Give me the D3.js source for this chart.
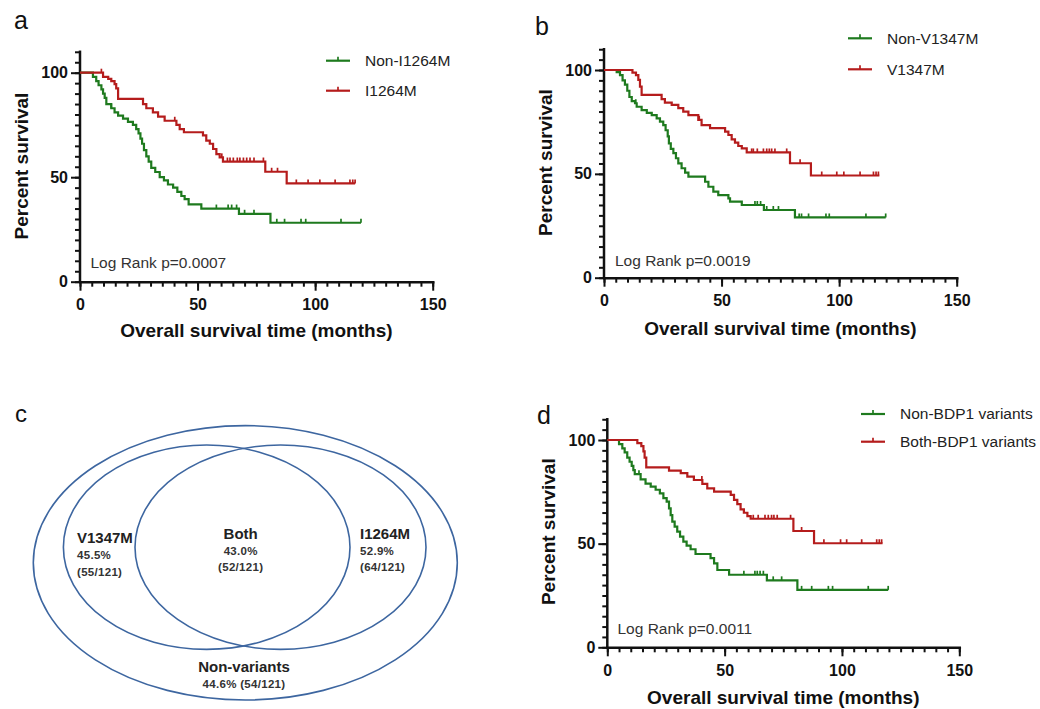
<!DOCTYPE html>
<html><head><meta charset="utf-8">
<script src="https://cdn.jsdelivr.net/npm/d3@7"></script>
<style>
html,body{margin:0;padding:0;background:#fff;}
svg{display:block;font-family:"Liberation Sans",Arial,Helvetica,sans-serif;}
</style></head><body>
<svg id="chart" width="1040" height="709"></svg>
<script>
// ---------------- DATA ----------------
const timeTicks = [0, 50, 100, 150];
const survivalTicks = [0, 50, 100];
const xTitle = "Overall survival time (months)";
const yTitle = "Percent survival";

// Panel a
const aLabels = ["Non-I1264M", "I1264M"];
const aPValue = "Log Rank p=0.0007";
const aGreenEvents = [[5.5,98],[6.9,96],[7.9,94],[9.1,92],[9.8,90],[10.5,88],[11.2,85],[13.3,83],[14.7,81],[16.2,79.5],[18.3,78],[20.4,76.5],[22.5,75],[23.9,73],[24.9,71],[25.7,68.5],[26.4,66],[27.2,63],[28.2,60],[29.2,57.5],[30.3,54.5],[32.0,52.5],[33.9,50],[35.7,48.5],[37.4,46.5],[39.6,45],[41.4,43],[43.1,41],[44.5,39.5],[46.2,37],[51.6,35],[67.6,32.5],[81,28.2]];
const aGreenCensors = [13.3,58,63,64.5,66.6,70,74,83.7,87,94,96,111,119.5];
const aGreenEnd = 119.5;
const aRedEvents = [[9.8,98],[12.0,97],[13.3,96],[14.7,94.5],[15.4,92.5],[16.2,87.5],[26.8,85],[28.2,83],[31.0,81],[33.2,79],[36.0,77],[41.0,75],[42.4,73],[44.2,71.5],[52.3,70],[53.7,67.5],[55.2,66],[56.6,63.5],[58.0,61],[59.4,59.5],[60.8,57.5],[78.8,52.6],[87.9,47]];
const aRedCensors = [9.1,40.3,60.3,62.7,63.8,65.2,66.9,68,69.5,70.9,72.3,74,78,81.5,84,92,97,102,108.5,114.8,116,117];
const aRedEnd = 117;

// Panel b
const bLabels = ["Non-V1347M", "V1347M"];
const bPValue = "Log Rank p=0.0019";
const bGreenEvents = [[5.4,99],[6.8,97.5],[7.9,95],[8.9,93],[9.9,90],[10.8,87],[11.8,85],[13.2,84],[13.9,82.3],[16.0,80.7],[18.2,79.4],[20.3,78.3],[22.4,76.7],[23.8,75.1],[25.2,73.5],[26.2,71],[27.1,68],[27.6,64.7],[28.4,62],[29.5,60],[30.6,57.5],[31.6,55],[33.0,52.7],[34.5,50.6],[35.9,48.7],[43.0,46.2],[44.4,43.8],[46.5,41.4],[48.6,39.8],[52.9,38.2],[53.6,36.6],[58.6,35],[68,32.6],[81.2,29]];
const bGreenCensors = [13.5,64.2,65.2,66.6,69.2,72,74.2,83,84,87,94.4,95.8,111.4,119.8];
const bGreenEnd = 119.8;
const bRedEvents = [[12.1,98.7],[13.6,97.5],[14.6,95.2],[15.3,92],[16.0,88],[24.5,86],[25.9,84.3],[28.8,83.2],[31.6,81.6],[33.7,80],[35.9,78.3],[40.1,76],[41.5,73.5],[45.1,72],[51.5,70.3],[52.9,68.7],[54.3,66.6],[55.7,65],[57.1,63.4],[58.6,62.3],[60.7,60.3],[79.1,55.1],[88,49.2]];
const bRedCensors = [40.5,62.8,63.5,65.2,67.8,69.2,70.3,71.3,72.7,77.7,83.4,92.6,99,102,108.9,114.6,115.7,116.7];
const bRedEnd = 117.1;

// Panel d
const dLabels = ["Non-BDP1 variants", "Both-BDP1 variants"];
const dPValue = "Log Rank p=0.0011";
const dGreenEvents = [[5.0,98],[6.4,96],[7.4,94],[8.5,91.5],[9.5,89.5],[10.4,87.5],[11.1,85.5],[11.7,83.5],[14.2,81],[16.3,79],[18.5,77.5],[20.6,76],[22.4,74.3],[23.9,72],[25.3,70.3],[26.3,67],[27.0,63.8],[27.7,60.6],[28.7,58.2],[29.8,55.8],[31.0,53.4],[32.4,51],[33.8,49],[35.5,47.3],[37.6,45],[44.0,43],[45.5,40.5],[46.9,37.3],[51.9,35],[68,32.3],[81,27.7]];
const dGreenCensors = [13.5,58.2,62.9,63.9,65.1,66.5,70.7,74.3,82.8,87.1,94.2,96,111.2,119.7];
const dGreenEnd = 119.7;
const dRedEvents = [[12.8,98.5],[14.5,97],[15.4,94.5],[15.9,91.5],[16.6,86.8],[26.3,85.2],[31.3,84],[34.1,82.3],[36.9,80.7],[40.5,78.8],[42.6,76.7],[45.5,75.1],[52.6,73.5],[54.0,71.1],[55.4,69.1],[56.8,66.5],[58.2,64.9],[59.7,63.3],[61.1,62],[79.3,56.1],[88.1,50.2]];
const dRedCensors = [40.3,62.2,64.3,67.2,68.6,70,71,72.4,78.1,82.8,92.3,99.4,102,108.4,114.8,115.9,116.9];
const dRedEnd = 117.3;

// Panel c (Venn)
const vennLabels = ["V1347M", "Both", "I1264M", "Non-variants"];
const vennPercents = ["45.5%", "43.0%", "52.9%", "44.6%"];
const vennCounts = [55, 52, 64, 54];
const vennTotal = 121;

// ---------------- DRAWING ----------------
const GREEN = "#1e7a1e", RED = "#b51c1c";
const svg = d3.select("#chart");

function survAt(events, t) {
  let s = 100;
  for (const [et, es] of events) { if (et <= t) s = es; }
  return s;
}

function kmPanel(cfg) {
  const g = svg.append("g");
  const x = d3.scaleLinear().domain([0, 150]).range([cfg.x0, cfg.x150]);
  const y = d3.scaleLinear().domain([0, 100]).range([cfg.y0, cfg.y100]);
  const yTop = 110;

  const yMinor = d3.axisLeft(y).tickValues(d3.range(0, yTop + 0.1, 5)).tickSize(5).tickSizeOuter(0).tickFormat("");
  const gy = g.append("g").attr("transform", `translate(${cfg.x0},0)`).call(yMinor);
  gy.select(".domain").attr("d", `M0,${y(0)}V${y(yTop)}`);
  const yMajor = d3.axisLeft(y).tickValues(survivalTicks).tickSize(9).tickSizeOuter(0).tickPadding(3);
  const gy2 = g.append("g").attr("transform", `translate(${cfg.x0},0)`).call(yMajor);
  gy2.select(".domain").remove();

  const xMinor = d3.axisBottom(x).tickValues(d3.range(0, 150.1, 5)).tickSize(5).tickSizeOuter(0).tickFormat("");
  g.append("g").attr("transform", `translate(0,${cfg.y0})`).call(xMinor);
  const xMajor = d3.axisBottom(x).tickValues(timeTicks).tickSize(9).tickSizeOuter(0).tickPadding(8);
  const gx2 = g.append("g").attr("transform", `translate(0,${cfg.y0})`).call(xMajor);
  gx2.select(".domain").remove();

  g.selectAll(".domain").attr("stroke", "#111").attr("stroke-width", 2.5).attr("stroke-linecap", "square");
  g.selectAll(".tick line").attr("stroke", "#111").attr("stroke-width", 2);
  g.selectAll(".tick text").attr("font-size", 16).attr("font-weight", "bold").attr("fill", "#111")
    .attr("font-family", '"Liberation Sans",Arial,sans-serif');

  const line = d3.line().x(d => x(d[0])).y(d => y(d[1])).curve(d3.curveStepAfter);
  cfg.series.forEach(sr => {
    const last = sr.events.length ? sr.events[sr.events.length - 1][1] : 100;
    const pts = [[0, 100], ...sr.events, [sr.end, last]];
    g.append("path").attr("d", line(pts)).attr("fill", "none").attr("stroke", sr.color).attr("stroke-width", 2.2);
    g.selectAll(null).data(sr.censors).enter().append("line")
      .attr("x1", d => x(d)).attr("x2", d => x(d))
      .attr("y1", d => y(survAt(sr.events, d))).attr("y2", d => y(survAt(sr.events, d)) - 4)
      .attr("stroke", sr.color).attr("stroke-width", 1.7);
  });

  cfg.series.forEach((sr, i) => {
    const ly = cfg.legY + i * cfg.legGap;
    g.append("line").attr("x1", cfg.legX).attr("x2", cfg.legX + 24).attr("y1", ly).attr("y2", ly)
      .attr("stroke", sr.color).attr("stroke-width", 2.2);
    g.append("line").attr("x1", cfg.legX + 12).attr("x2", cfg.legX + 12).attr("y1", ly).attr("y2", ly - 4)
      .attr("stroke", sr.color).attr("stroke-width", 1.7);
    g.append("text").attr("x", cfg.legX + 39).attr("y", ly).attr("dy", "0.35em")
      .attr("font-size", 15.5).attr("fill", "#222").text(sr.label);
  });

  g.append("text").attr("x", cfg.pX).attr("y", cfg.pY).attr("font-size", 15.5).attr("fill", "#333").text(cfg.pText);

  g.append("text").attr("x", (cfg.x0 + cfg.x150) / 2).attr("y", cfg.xTitleY)
    .attr("text-anchor", "middle").attr("font-size", 19).attr("font-weight", "bold").attr("fill", "#111").text(xTitle);
  g.append("text").attr("transform", `translate(${cfg.yTitleX},${cfg.yTitleY}) rotate(-90)`)
    .attr("text-anchor", "middle").attr("font-size", 19).attr("font-weight", "bold").attr("fill", "#111").text(yTitle);

  g.append("text").attr("x", cfg.letterX).attr("y", cfg.letterY).attr("font-size", 25).attr("fill", "#111").text(cfg.letter);
}

kmPanel({
  letter: "a", letterX: 14, letterY: 29,
  x0: 80, x150: 432.7, y0: 281.7, y100: 72.7,
  legX: 326, legY: 60.7, legGap: 30,
  pText: aPValue, pX: 90.5, pY: 267.5,
  xTitleY: 337, yTitleX: 28, yTitleY: 166,
  series: [
    {label: aLabels[0], color: GREEN, events: aGreenEvents, censors: aGreenCensors, end: aGreenEnd},
    {label: aLabels[1], color: RED, events: aRedEvents, censors: aRedCensors, end: aRedEnd}
  ]
});

kmPanel({
  letter: "b", letterX: 535, letterY: 35,
  x0: 604, x150: 956.7, y0: 277.7, y100: 70,
  legX: 848, legY: 38.3, legGap: 31,
  pText: bPValue, pX: 615, pY: 266,
  xTitleY: 335, yTitleX: 552, yTitleY: 162.5,
  series: [
    {label: bLabels[0], color: GREEN, events: bGreenEvents, censors: bGreenCensors, end: bGreenEnd},
    {label: bLabels[1], color: RED, events: bRedEvents, censors: bRedCensors, end: bRedEnd}
  ]
});

kmPanel({
  letter: "d", letterX: 537, letterY: 424,
  x0: 607.3, x150: 959.3, y0: 647.3, y100: 440,
  legX: 861, legY: 414, legGap: 27.7,
  pText: dPValue, pX: 617.5, pY: 634.3,
  xTitleY: 704, yTitleX: 554.5, yTitleY: 531.7,
  series: [
    {label: dLabels[0], color: GREEN, events: dGreenEvents, censors: dGreenCensors, end: dGreenEnd},
    {label: dLabels[1], color: RED, events: dRedEvents, censors: dRedCensors, end: dRedEnd}
  ]
});

// ---- Venn panel c ----
(function () {
  const g = svg.append("g");
  const BLUE = "#3d66a0";
  const ellipses = [
    {cx: 245.3, cy: 562.8, rx: 212, ry: 137.2},
    {cx: 206.7, cy: 547.2, rx: 143.3, ry: 102.2},
    {cx: 280.5, cy: 547.2, rx: 145.5, ry: 102.2}
  ];
  g.selectAll("ellipse").data(ellipses).enter().append("ellipse")
    .attr("cx", d => d.cx).attr("cy", d => d.cy).attr("rx", d => d.rx).attr("ry", d => d.ry)
    .attr("fill", "none").attr("stroke", BLUE).attr("stroke-width", 1.6);

  const fmt = i => `(${vennCounts[i]}/${vennTotal})`;
  const regions = [
    {x: 77, y: 542.5, anchor: "start"},
    {x: 240.7, y: 539, anchor: "middle"},
    {x: 360, y: 539, anchor: "start"}
  ];
  regions.forEach((r, i) => {
    g.append("text").attr("x", r.x).attr("y", r.y).attr("text-anchor", r.anchor)
      .attr("font-size", 15).attr("font-weight", "bold").attr("fill", "#222").text(vennLabels[i]);
    const off = i === 0 ? 16.8 : 16;
    g.append("text").attr("x", r.x).attr("y", r.y + off).attr("text-anchor", r.anchor)
      .attr("font-size", 11.5).attr("font-weight", "bold").attr("fill", "#333").attr("letter-spacing", 0.3).text(vennPercents[i]);
    g.append("text").attr("x", r.x).attr("y", r.y + off + 16.3).attr("text-anchor", r.anchor)
      .attr("font-size", 11.5).attr("font-weight", "bold").attr("fill", "#333").attr("letter-spacing", 0.3).text(fmt(i));
  });
  g.append("text").attr("x", 244).attr("y", 671.7).attr("text-anchor", "middle")
    .attr("font-size", 15).attr("font-weight", "bold").attr("fill", "#222").text(vennLabels[3]);
  g.append("text").attr("x", 244).attr("y", 688.3).attr("text-anchor", "middle")
    .attr("font-size", 11.5).attr("font-weight", "bold").attr("fill", "#333").attr("letter-spacing", 0.3)
    .text(`${vennPercents[3]} ${fmt(3)}`);
  g.append("text").attr("x", 15).attr("y", 421.5).attr("font-size", 24).attr("fill", "#111").text("c");
})();
</script>
</body></html>
